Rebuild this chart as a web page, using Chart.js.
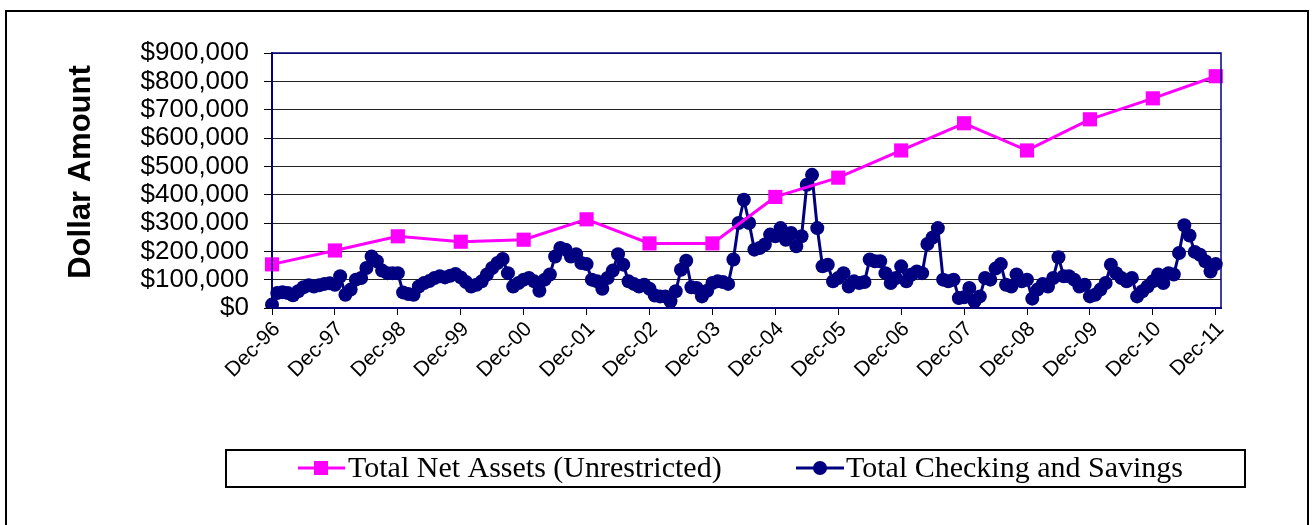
<!DOCTYPE html>
<html>
<head>
<meta charset="utf-8">
<script src="https://cdn.jsdelivr.net/npm/chart.js@4.4.1/dist/chart.umd.min.js"></script>
<style>
    html, body { margin: 0; padding: 0; background: #fff; }
    #wrap { position: relative; width: 1315px; height: 525px; }
</style>
</head>
<body>
<div id="wrap"><canvas id="assetsChart" width="1315" height="525"></canvas></div>
<script>
// Year-end tick labels (one every 12 months)
const yearLabels = ['Dec-96', 'Dec-97', 'Dec-98', 'Dec-99', 'Dec-00', 'Dec-01', 'Dec-02', 'Dec-03',
    'Dec-04', 'Dec-05', 'Dec-06', 'Dec-07', 'Dec-08', 'Dec-09', 'Dec-10', 'Dec-11'];

// Total net assets, read at each December
const netAssets = [154000, 203000, 253000, 234000, 241000, 313000, 228000, 228000,
    392000, 460000, 556000, 652000, 556000, 666000, 740000, 818000];

// Total checking and savings, monthly from Dec-96 to Dec-11 (thousands)
const checkingSavingsK = [
    12, 53, 56, 53, 45, 59, 73, 80, 76, 80, 85, 87,
    82, 112, 47, 65, 100, 106, 141, 182, 165, 132, 123, 123,
    123, 55, 49, 47, 76, 88, 95, 106, 112, 108, 114, 120,
    108, 92, 76, 82, 94, 118, 141, 159, 173, 123, 76, 88,
    100, 106, 94, 61, 100, 118, 182, 212, 206, 182, 190, 159,
    155, 100, 94, 68, 106, 132, 190, 153, 94, 85, 76, 82,
    68, 44, 41, 41, 24, 59, 135, 167, 73, 71, 41, 61,
    88, 94, 92, 85, 171, 300, 382, 300, 206, 212, 224, 259,
    253, 282, 241, 265, 218, 253, 435, 470, 282, 147, 153, 94,
    106, 123, 76, 94, 88, 92, 171, 165, 165, 123, 88, 106,
    147, 94, 118, 129, 123, 226, 249, 282, 100, 94, 100, 35,
    38, 71, 24, 41, 106, 100, 139, 155, 82, 76, 118, 94,
    100, 33, 65, 85, 76, 106, 179, 112, 112, 100, 76, 82,
    41, 47, 65, 88, 153, 123, 106, 94, 106, 41, 59, 76,
    94, 118, 88, 123, 118, 194, 292, 256, 198, 188, 165, 129, 155
];

const seriesNames = ['Total Net Assets (Unrestricted)', 'Total Checking and Savings'];
const yTitle = 'Dollar Amount';

const MAGENTA = '#FF00FF';
const NAVY = '#000080';
const SANS = "Arial, 'Liberation Sans', sans-serif";
const SERIF = "'Times New Roman', 'Liberation Serif', serif";

// Monthly categories Dec-96 .. Jan-12 (last one empty, like the source axis)
const monthNames = ['Jan', 'Feb', 'Mar', 'Apr', 'May', 'Jun', 'Jul', 'Aug', 'Sep', 'Oct', 'Nov', 'Dec'];
const categories = [];
for (let i = 0; i < checkingSavingsK.length + 1; i++) {
    const m = (11 + i) % 12;
    const yr = (1996 + Math.floor((11 + i) / 12)) % 100;
    categories.push(monthNames[m] + '-' + String(yr).padStart(2, '0'));
}

const netAssetsData = categories.map((c, i) =>
    (i % 12 === 0 && i / 12 < netAssets.length) ? netAssets[i / 12] : null);
const checkingData = checkingSavingsK.map(v => v * 1000);

// Plot frame, outer border, axis title and legend box
const framePlugin = {
    id: 'framePlugin',
    beforeDraw(chart) {
        const ctx = chart.ctx;
        ctx.save();
        ctx.fillStyle = '#fff';
        ctx.fillRect(0, 0, chart.width, chart.height);
        ctx.strokeStyle = '#000';
        ctx.lineWidth = 2;
        ctx.strokeRect(6, 11, 1302, 540);

        // rotated y axis title
        ctx.translate(81, 172);
        ctx.rotate(-Math.PI / 2);
        ctx.font = 'bold 31px ' + SANS;
        ctx.fillStyle = '#000';
        ctx.textAlign = 'center';
        ctx.textBaseline = 'middle';
        ctx.fillText(yTitle, 0, 0);
        ctx.restore();
    },
    afterDatasetsDraw(chart) {
        const a = chart.chartArea;
        const ctx = chart.ctx;
        ctx.save();
        ctx.strokeStyle = NAVY;
        ctx.lineWidth = 1.5;
        ctx.strokeRect(a.left, a.top, a.right - a.left, a.bottom - a.top);
        ctx.restore();
    },
    afterDraw(chart) {
        const ctx = chart.ctx;
        ctx.save();
        ctx.strokeStyle = '#000';
        ctx.lineWidth = 2;
        ctx.strokeRect(226, 450, 1019, 37);

        const cy = 468;
        ctx.font = '30px ' + SERIF;
        ctx.fillStyle = '#000';
        ctx.textBaseline = 'middle';

        // entry 1: line + square
        ctx.strokeStyle = MAGENTA;
        ctx.lineWidth = 3;
        ctx.beginPath();
        ctx.moveTo(298, cy);
        ctx.lineTo(345, cy);
        ctx.stroke();
        ctx.fillStyle = MAGENTA;
        ctx.fillRect(314, cy - 7, 14, 14);
        ctx.fillStyle = '#000';
        ctx.fillText(seriesNames[0], 348, cy + 1);

        // entry 2: line + circle
        ctx.strokeStyle = NAVY;
        ctx.beginPath();
        ctx.moveTo(796, cy);
        ctx.lineTo(844, cy);
        ctx.stroke();
        ctx.fillStyle = NAVY;
        ctx.beginPath();
        ctx.arc(820, cy, 7, 0, Math.PI * 2);
        ctx.fill();
        ctx.fillStyle = '#000';
        ctx.fillText(seriesNames[1], 846, cy + 1);
        ctx.restore();
    }
};

new Chart(document.getElementById('assetsChart').getContext('2d'), {
    type: 'line',
    data: {
        labels: categories,
        datasets: [{
            label: seriesNames[0],
            data: netAssetsData,
            spanGaps: true,
            borderColor: MAGENTA,
            backgroundColor: MAGENTA,
            borderWidth: 3,
            pointStyle: 'rect',
            pointRadius: 10,
            pointBorderWidth: 0,
            tension: 0
        }, {
            label: seriesNames[1],
            data: checkingData,
            borderColor: NAVY,
            backgroundColor: NAVY,
            borderWidth: 3,
            pointStyle: 'circle',
            pointRadius: 7,
            pointBorderWidth: 0,
            tension: 0
        }]
    },
    options: {
        responsive: false,
        animation: false,
        layout: { padding: { left: 58, top: 53, right: 94, bottom: 67 } },
        plugins: {
            legend: { display: false },
            tooltip: { enabled: false }
        },
        scales: {
            x: {
                type: 'category',
                offset: false,
                afterFit(scale) { scale.height = 150; },
                border: { color: NAVY, width: 2 },
                grid: {
                    drawOnChartArea: false,
                    drawTicks: true,
                    tickLength: 7,
                    tickColor: ctx => (ctx.index % 12 === 0 ? '#000' : 'rgba(0,0,0,0)')
                },
                ticks: {
                    autoSkip: false,
                    minRotation: 45,
                    maxRotation: 45,
                    padding: 2,
                    labelOffset: 5,
                    color: '#000',
                    font: { family: SANS, size: 21 },
                    callback: (v, i) => (i % 12 === 0 ? categories[i] : '')
                }
            },
            y: {
                min: 0,
                max: 900000,
                afterFit(scale) { scale.width = 214; },
                border: { color: NAVY, width: 2 },
                grid: {
                    color: '#222',
                    lineWidth: 1,
                    tickLength: 8,
                    tickColor: '#000'
                },
                ticks: {
                    autoSkip: false,
                    stepSize: 100000,
                    padding: 15,
                    color: '#000',
                    font: { family: SANS, size: 26 },
                    callback: v => '$' + v.toLocaleString('en-US')
                }
            }
        }
    },
    plugins: [framePlugin]
});
</script>
</body>
</html>
